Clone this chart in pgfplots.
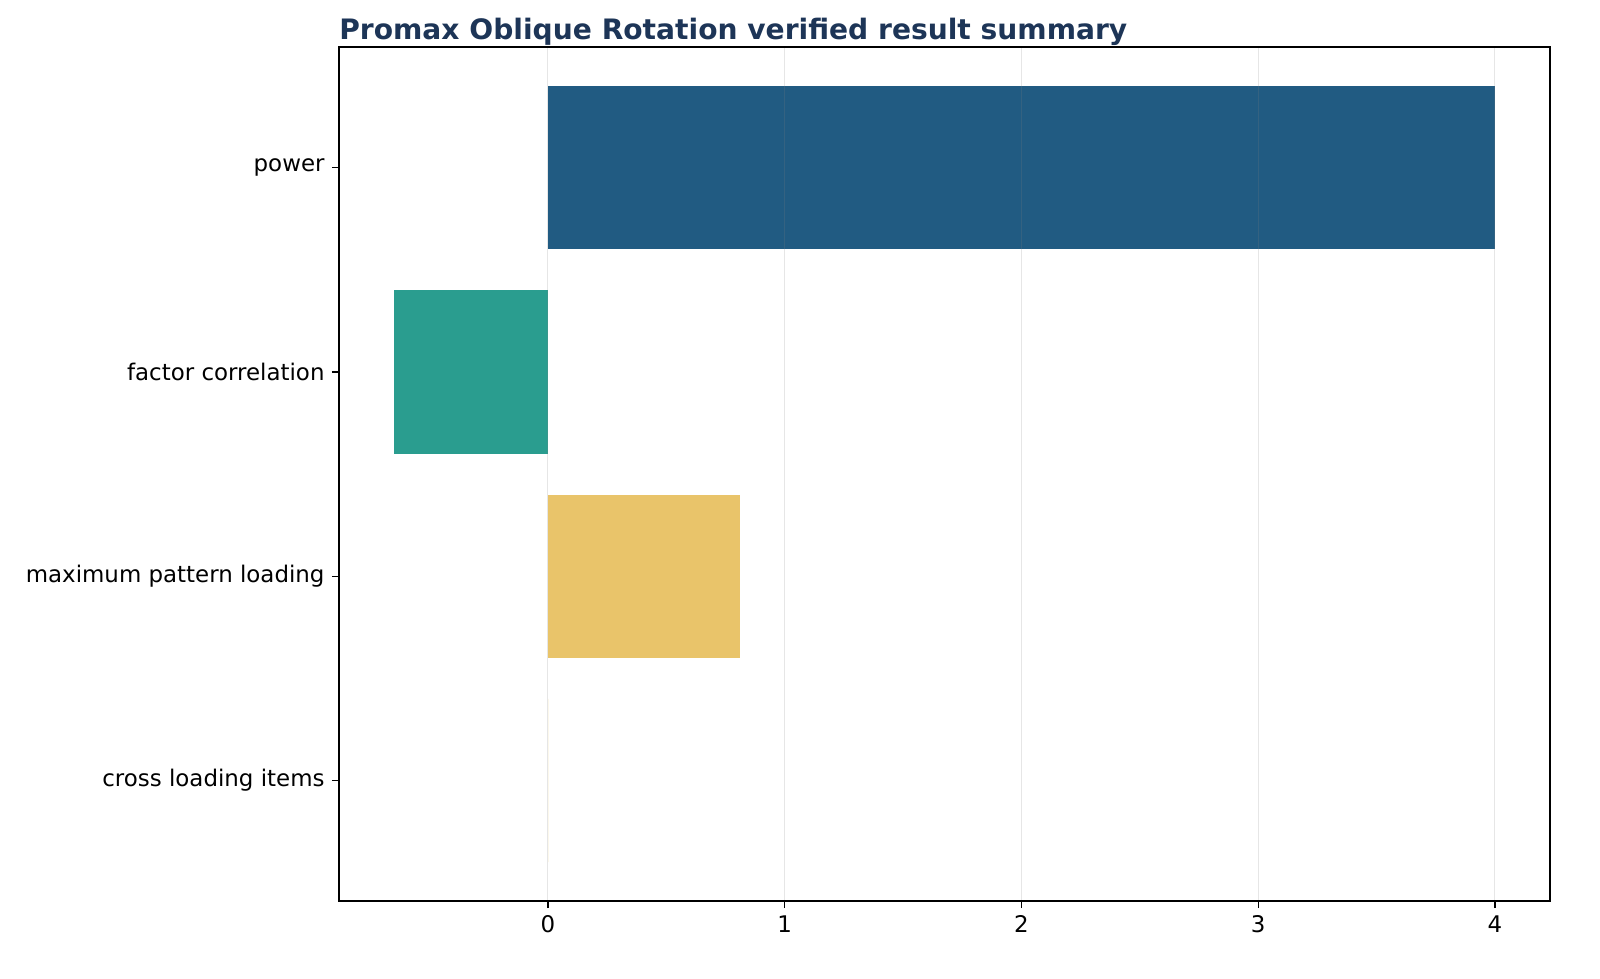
\documentclass[border=0pt]{standalone}
\usepackage{fontspec}
\setmainfont{DejaVu Sans}
\usepackage{pgfplots}
\pgfplotsset{compat=1.18}
\definecolor{barBlue}{HTML}{215B82}
\definecolor{barTeal}{HTML}{2A9D8F}
\definecolor{barSand}{HTML}{E9C46A}
\definecolor{titleNavy}{HTML}{1D3557}

\begin{document}
\begin{tikzpicture}
\begin{axis}[
    at={(0pt,0pt)}, anchor=south west,
    scale only axis,
    width=581.3pt, height=409.9pt,
    xbar, bar width=0.8, bar shift=0pt,
    xmin=-0.8825, xmax=4.2325,
    ymin=-0.59, ymax=3.59,
    y dir=reverse,
    ytick={0,1,2,3},
    yticklabels={power,factor correlation,maximum pattern loading,cross loading items},
    xtick={0,1,2,3,4},
    xtick pos=bottom, ytick pos=left,
    tick align=outside,
    major tick length=3.4pt,
    tick style={black, line width=0.6pt},
    axis line style={black, line width=0.6pt},
    xmajorgrids,
    grid style={gray, opacity=0.2, line width=0.5pt},
    axis on top,
    tick label style={font=\fontsize{11}{13}\selectfont},
    /pgf/number format/assume math mode=true,
]
\addplot[draw=none, fill=barBlue] coordinates {(4,0)};
\addplot[draw=none, fill=barTeal] coordinates {(-0.65,1)};
\addplot[draw=none, fill=barSand] coordinates {(0.81,2)};
\addplot[draw=none, fill=barSand] coordinates {(0,3)};
\end{axis}
\node[anchor=base west, inner sep=0pt, text=titleNavy,
      font=\fontsize{13.5}{15}\selectfont\bfseries]
    at (0pt,413.7pt) {Promax Oblique Rotation verified result summary};
\path (-162.7pt,-36.96pt) rectangle (605.3pt,432.5pt);
\end{tikzpicture}
\end{document}
